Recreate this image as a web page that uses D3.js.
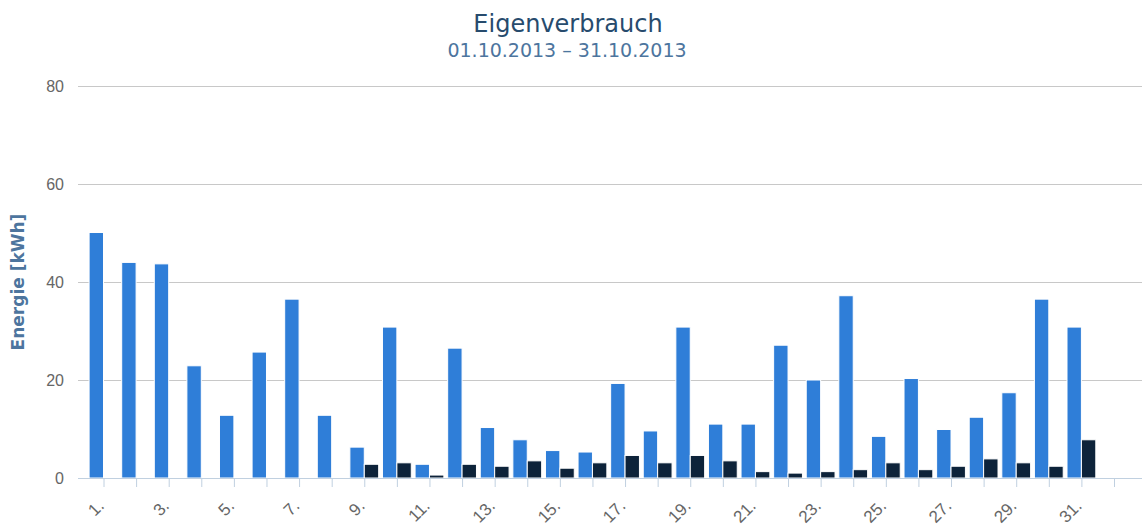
<!DOCTYPE html>
<html>
<head>
<meta charset="utf-8">
<script src="https://cdn.jsdelivr.net/npm/d3@7"></script>
<style>
  body { margin: 0; background: #fff; }
  svg { display: block; font-family: 'DejaVu Sans', sans-serif; }
  .axis text { fill: #666; font-size: 16px; }
  .grid line { stroke: #c8c8c8; }
</style>
</head>
<body>
<div id="chart"></div>
<script>
// Eigenverbrauch October 2013 - daily columns

// Data
const days = d3.range(1, 33)   // 32 slots, the last one stays empty
const labelDays = [1, 3, 5, 7, 9, 11, 13, 15, 17, 19, 21, 23, 25, 27, 29, 31]
const seriesNames = ['verbrauch', 'eigen']
const verbrauch = [50.1, 44.0, 43.7, 22.9, 12.8, 25.7, 36.5, 12.8, 6.3, 30.8, 2.8, 26.5, 10.3, 7.8, 5.6, 5.3,
  19.3, 9.6, 30.8, 11.0, 11.0, 27.1, 20.0, 37.2, 8.5, 20.3, 9.9, 12.4, 17.4, 36.5, 30.8]
const eigen = [null, null, null, null, null, null, null, null, 2.8, 3.1, 0.6, 2.8, 2.4, 3.5, 2.0, 3.1,
  4.6, 3.1, 4.6, 3.5, 1.3, 1.0, 1.3, 1.7, 3.1, 1.7, 2.4, 3.9, 3.1, 2.4, 7.8]
const yTicks = [0, 20, 40, 60, 80]
const colors = ['#2f7ed8', '#0d233a']

const width = 1145
const height = 529
const plot = { left: 78, right: 1142, top: 86, bottom: 478 }

const svg = d3.select('#chart')
  .append('svg')
  .attr('width', width)
  .attr('height', height)

// Scales
const xScale = d3.scaleLinear()
  .domain([1, 32])
  .range([103.5, 1114])

const subScale = d3.scaleBand()
  .domain(seriesNames)
  .range([-14.4, 14.4])

const yScale = d3.scaleLinear()
  .domain([0, 80])
  .range([plot.bottom, plot.top])

// Title
svg.append('text')
  .attr('x', 568)
  .attr('y', 31.5)
  .attr('text-anchor', 'middle')
  .style('font-size', '24px')
  .style('fill', '#274b6d')
  .text('Eigenverbrauch')

svg.append('text')
  .attr('x', 567)
  .attr('y', 56.5)
  .attr('text-anchor', 'middle')
  .style('font-size', '19px')
  .style('fill', '#4d759e')
  .text('01.10.2013 – 31.10.2013')

// Grid + y axis labels
const yAxis = d3.axisLeft(yScale)
  .tickValues(yTicks)
  .tickSizeInner(-(plot.right - plot.left))
  .tickSizeOuter(0)
  .tickPadding(14)

svg.append('g')
  .attr('class', 'axis grid')
  .attr('transform', `translate(${plot.left}, 0)`)
  .call(yAxis)
  .call(g => g.select('.domain').remove())
  .call(g => g.selectAll('text').attr('dy', '0.36em'))

// Y axis title
svg.append('text')
  .attr('transform', `translate(24, ${(plot.top + plot.bottom) / 2}) rotate(-90)`)
  .attr('text-anchor', 'middle')
  .style('font-size', '17px')
  .style('font-weight', 'bold')
  .style('fill', '#4d759e')
  .text('Energie [kWh]')

// Columns
const rows = days.slice(0, 31).map((d, i) => ({ day: d, values: [verbrauch[i], eigen[i]] }))

const groups = svg.append('g')
  .selectAll('g')
  .data(rows)
  .enter()
  .append('g')
  .attr('transform', d => `translate(${xScale(d.day)}, 0)`)

groups.selectAll('rect')
  .data(d => d.values.map((v, i) => ({ key: seriesNames[i], value: v, color: colors[i] })).filter(e => e.value != null))
  .enter()
  .append('rect')
  .attr('x', d => subScale(d.key))
  .attr('y', d => yScale(d.value))
  .attr('width', subScale.bandwidth())
  .attr('height', d => yScale(0) - yScale(d.value))
  .attr('fill', d => d.color)
  .attr('stroke', '#fff')
  .attr('stroke-width', 1)

// X axis
const xAxis = d3.axisBottom(xScale)
  .tickValues(days)
  .tickSizeInner(9)
  .tickSizeOuter(0)
  .tickFormat(d => labelDays.includes(d) ? d + '.' : '')

svg.append('g')
  .attr('class', 'axis')
  .attr('transform', `translate(0, ${plot.bottom})`)
  .call(xAxis)
  .call(g => g.select('.domain').attr('d', `M${plot.left},0.5H${plot.right}`).attr('stroke', '#c0d0e0'))
  .call(g => g.selectAll('.tick line').attr('stroke', '#c0d0e0'))
  .call(g => g.selectAll('.tick text')
    .attr('y', 0)
    .attr('dy', 0)
    .attr('text-anchor', 'end')
    .style('font-size', '17px')
    .attr('transform', 'translate(1, 29) rotate(-45)'))
</script>
</body>
</html>
